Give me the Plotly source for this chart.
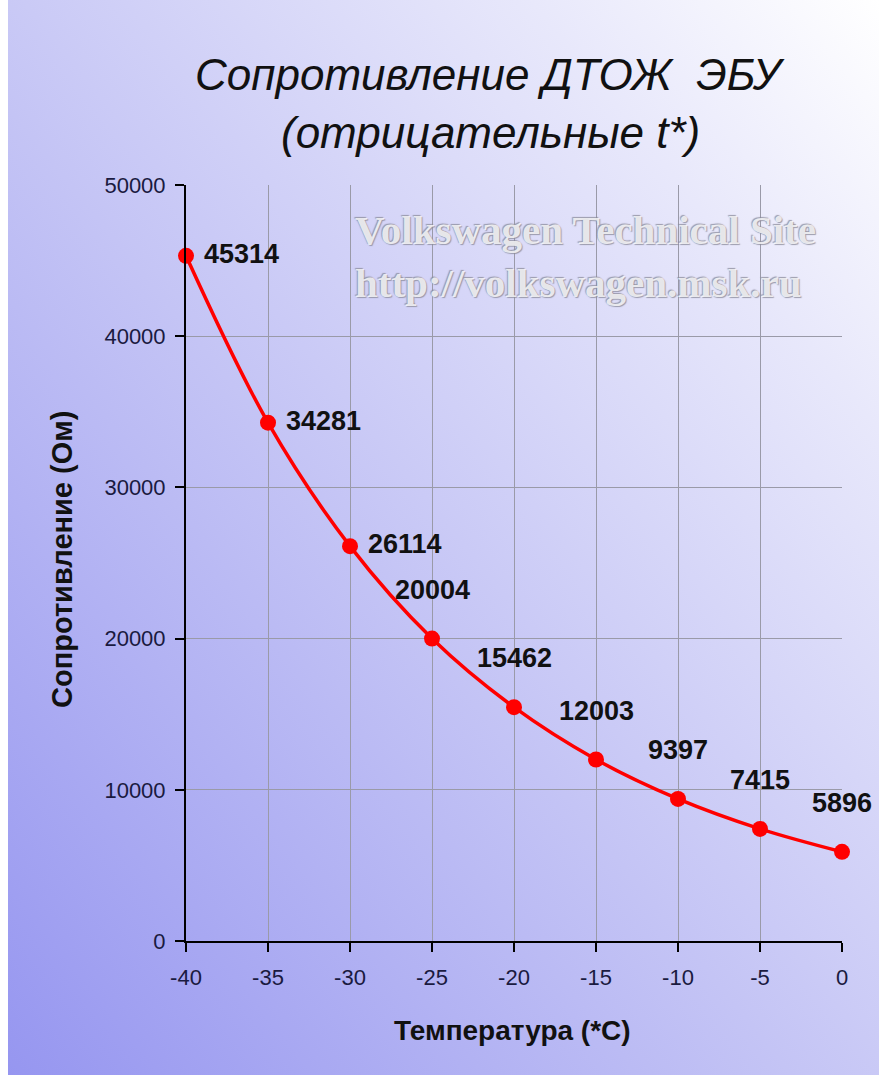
import base64
import plotly.graph_objects as go

# ---- data ----
temperature = [-40, -35, -30, -25, -20, -15, -10, -5, 0]
resistance = [45314, 34281, 26114, 20004, 15462, 12003, 9397, 7415, 5896]
x_ticks = [-40, -35, -30, -25, -20, -15, -10, -5, 0]
y_ticks = [0, 10000, 20000, 30000, 40000, 50000]

title_line1 = "Сопротивление ДТОЖ  ЭБУ"
title_line2 = "(отрицательные t*)"
x_title = "Температура (*С)"
y_title = "Сопротивление (Ом)"
watermark = "Volkswagen Technical Site<br>http://volkswagen.msk.ru"

# ---- geometry (pixels) ----
W, H = 879, 1080
L, R, T, B = 186, 842, 185, 941
pw, ph = R - L, B - T

def px_x(p):
    return (p - L) / pw

def px_y(p):
    return (B - p) / ph

# gradient background as svg
svg = f'''<svg xmlns="http://www.w3.org/2000/svg" width="871" height="1075" viewBox="0 0 871 1075" preserveAspectRatio="none">
<defs><linearGradient id="g" x1="0" y1="1" x2="1" y2="0">
<stop offset="0" stop-color="#9696f0"/>
<stop offset="0.45" stop-color="#c4c4f5"/>
<stop offset="0.8" stop-color="#e8e8fb"/>
<stop offset="1" stop-color="#ffffff"/>
</linearGradient></defs>
<rect width="871" height="1075" fill="url(#g)"/></svg>'''
svg_uri = "data:image/svg+xml;base64," + base64.b64encode(svg.encode()).decode()

fig = go.Figure()
fig.add_trace(go.Scatter(
    x=temperature, y=resistance,
    mode="lines+markers",
    line=dict(color="#ff0000", width=3.5, shape="spline", smoothing=1.0),
    marker=dict(color="#ff0000", size=16, symbol="circle"),
    cliponaxis=False,
    showlegend=False,
    hoverinfo="x+y",
))

label_font = dict(family="Liberation Sans, Arial", size=27, color="#111111")
annotations = []
# data labels: first three to the right, the rest above
for i, (t, r) in enumerate(zip(temperature, resistance)):
    if i < 3:
        annotations.append(dict(x=t, y=r, xref="x", yref="y", text=f"<b>{r}</b>",
                                showarrow=False, xanchor="left", yanchor="middle",
                                xshift=16, yshift=2, font=label_font))
    else:
        annotations.append(dict(x=t, y=r, xref="x", yref="y", text=f"<b>{r}</b>",
                                showarrow=False, xanchor="center", yanchor="bottom",
                                xshift=0, yshift=32, font=label_font))

# title
title_font = dict(family="Liberation Sans, Arial", size=44, color="#111111")
annotations.append(dict(x=px_x(490), y=px_y(75), xref="paper", yref="paper",
                        text=f"<i>{title_line1}</i>", showarrow=False,
                        xanchor="center", yanchor="middle", font=title_font))
annotations.append(dict(x=px_x(490), y=px_y(133), xref="paper", yref="paper",
                        text=f"<i>{title_line2}</i>", showarrow=False,
                        xanchor="center", yanchor="middle", font=title_font))
# watermark
annotations.append(dict(x=px_x(585), y=px_y(256), xref="paper", yref="paper",
                        text=watermark, showarrow=False,
                        xanchor="center", yanchor="middle", align="left",
                        font=dict(family="Liberation Serif, Times New Roman", size=41,
                                  color="rgba(255,255,255,0.8)", weight="bold",
                                  shadow="1px 1px 1px #8a8a9a, -1px -1px 1px #8a8a9a")))
# axis titles
annotations.append(dict(x=px_x(512), y=px_y(1030), xref="paper", yref="paper",
                        text=f"<b>{x_title}</b>", showarrow=False,
                        xanchor="center", yanchor="middle",
                        font=dict(family="Liberation Sans, Arial", size=28, color="#111111")))
annotations.append(dict(x=px_x(62), y=px_y(560), xref="paper", yref="paper",
                        text=f"<b>{y_title}</b>", showarrow=False, textangle=-90,
                        xanchor="center", yanchor="middle",
                        font=dict(family="Liberation Sans, Arial", size=29, color="#111111")))

tick_font = dict(family="Liberation Sans, Arial", size=22, color="#1a1a40")
fig.update_layout(
    width=W, height=H,
    margin=dict(l=L, r=W - R, t=T, b=H - B),
    paper_bgcolor="#ffffff",
    plot_bgcolor="rgba(0,0,0,0)",
    images=[dict(source=svg_uri, xref="paper", yref="paper",
                 x=px_x(8), y=px_y(0), sizex=871 / pw, sizey=1075 / ph,
                 xanchor="left", yanchor="top", sizing="stretch", layer="below")],
    annotations=annotations,
    xaxis=dict(
        range=[-40, 0], tickvals=x_ticks, ticktext=[str(v) for v in x_ticks],
        showgrid=True, gridcolor="#9a9aa8", gridwidth=1,
        showline=True, linecolor="#000000", linewidth=2,
        ticks="outside", ticklen=9, tickwidth=2, tickcolor="#000000",
        ticklabelstandoff=7,
        tickfont=tick_font, zeroline=False,
    ),
    yaxis=dict(
        range=[0, 50000], tickvals=y_ticks, ticktext=[str(v) for v in y_ticks],
        showgrid=True, gridcolor="#9a9aa8", gridwidth=1,
        showline=True, linecolor="#000000", linewidth=2,
        ticks="outside", ticklen=9, tickwidth=2, tickcolor="#000000",
        ticklabelstandoff=5,
        tickfont=tick_font, zeroline=False,
    ),
)

fig.write_html("out.html")
